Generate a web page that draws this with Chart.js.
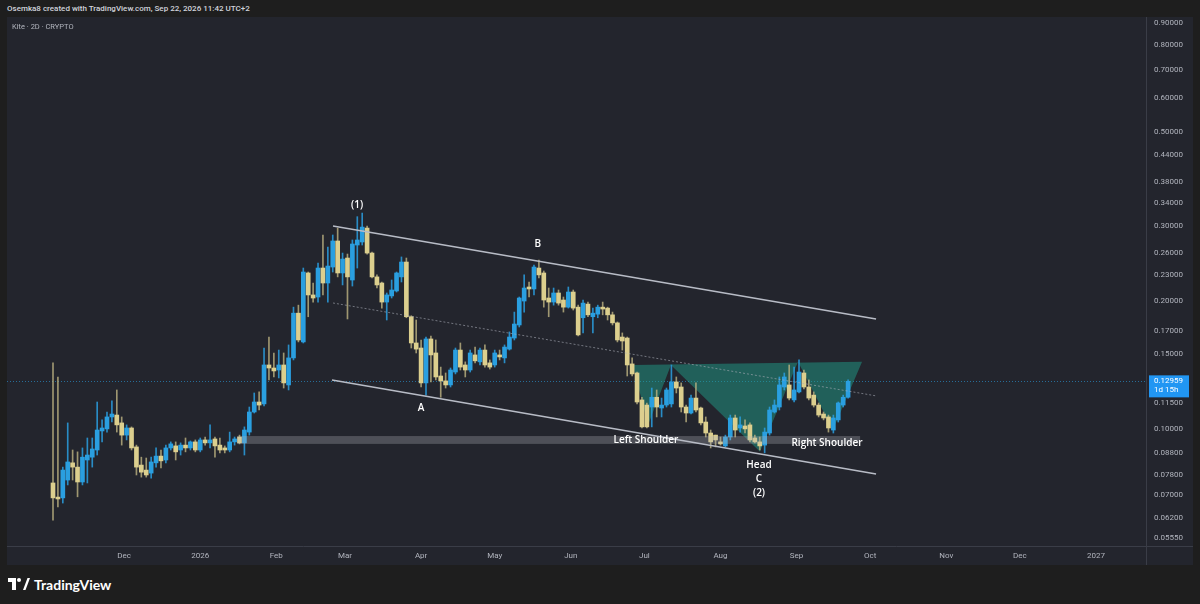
<!DOCTYPE html>
<html>
<head>
<meta charset="utf-8">
<script src="https://cdn.jsdelivr.net/npm/chart.js@4"></script>
<style>
  html, body { margin: 0; padding: 0; }
  body { width: 1200px; height: 604px; background: #1e1e1e; position: relative; overflow: hidden; font-family: Roboto, sans-serif; }
  #hdr { position: absolute; left: 7px; top: 4px; font-size: 8px; font-weight: 500; color: #d1d4dc; white-space: nowrap; }
  #frame { position: absolute; left: 7px; top: 17px; width: 1186px; height: 548px; background: #23252d; }
  #sym { position: absolute; left: 12px; top: 22px; font-size: 7.5px; color: #b2b5be; white-space: nowrap; }
  #logo { position: absolute; left: 8px; top: 575px; height: 18px; display: flex; align-items: center; color: #ffffff; font: 700 14px Lato, sans-serif; }
  #logo svg { margin-right: 4px; }
</style>
</head>
<body>
<div id="hdr">Osemka8 created with TradingView.com, Sep 22, 2026 11:42 UTC+2</div>
<div id="frame"><canvas id="c" width="1186" height="548"></canvas></div>
<div id="sym">Kite · 2D · CRYPTO</div>
<div id="logo"><svg width="22" height="12" viewBox="0 0 22 12"><path d="M0 0h8v12H4V4H0z" fill="#fff"/><circle cx="11" cy="2" r="2" fill="#fff"/><path d="M15 12l4.5-12H22l-4.5 12z" fill="#fff"/></svg>TradingView</div>
<script>
// 2D candles, first one opens 29 days before Dec 1 2025 (day 0 of the x axis)
const firstCandleDay = -29;
const candleStep = 2;

const candleOpen = [
  .0748,.0693,.0690,.0760,.0834,.0815,.0752,.0847,.0860,.0894,
  .0991,.1002,.1069,.1080,.1035,.0969,.1007,.0909,.0824,.0802,
  .0789,.0834,.0865,.0847,.0904,.0914,.0894,.0918,.0904,.0934,
  .0894,.0944,.0929,.0949,.0918,.0904,.0894,.0934,.0959,.0929,
  .0985,.1098,.1159,.1147,.1416,.1393,.1378,.1416,.1271,.1471,
  .1874,.1604,.2329,.2068,.2045,.2392,.2206,.2405,.2769,.2329,
  .2525,.2242,.2709,.2754,.2969,.2594,.2280,.2206,.1990,.2057,
  .2113,.2280,.2471,.1838,.1595,.1552,.1285,.1630,.1511,.1334,
  .1299,.1271,.1363,.1535,.1416,.1378,.1495,.1440,.1535,.1432,
  .1416,.1495,.1471,.1543,.1638,.1758,.2001,.2159,.2136,.2392,
  .2329,.2034,.1990,.2090,.2012,.1936,.2101,.1936,.1828,.1968,
  .1838,.1864,.1936,.1926,.1857,.1778,.1647,.1638,.1424,.1356,
  .1172,.1140,.1128,.1189,.1122,.1140,.1147,.1292,.1257,.1128,
  .1092,.1184,.1122,.1040,.0980,.0969,.0934,.0914,.0959,.1063,
  .1007,.1018,.1024,.0954,.0934,.0918,.0980,.1098,.1128,.1257,
  .1271,.1172,.1224,.1356,.1257,.1203,.1140,.1086,.1069,.0996,
  .1052,.1140,.1189
];
const candleHigh = [
  .1432,.1327,.0815,.1035,.0894,.0885,.0904,.0954,.0954,.1159,
  .1052,.1098,.1166,.1237,.1069,.1024,.1013,.0918,.0860,.0856,
  .0860,.0904,.0894,.0918,.0934,.0934,.0929,.0954,.0939,.0944,
  .0954,.0959,.1024,.0959,.0954,.0914,.0985,.0959,.0969,.1013,
  .1128,.1217,.1224,.1552,.1647,.1511,.1535,.1511,.1578,.1936,
  .1957,.2392,.2341,.2206,.2457,.2860,.2680,.2860,.2969,.2594,
  .2580,.2784,.3158,.3220,.3002,.2609,.2305,.2218,.2090,.2242,
  .2341,.2540,.2525,.1848,.1806,.1621,.1647,.1656,.1621,.1400,
  .1356,.1393,.1552,.1595,.1440,.1535,.1560,.1552,.1578,.1455,
  .1535,.1535,.1578,.1693,.1885,.2045,.2305,.2218,.2431,.2498,
  .2354,.2147,.2147,.2124,.2045,.2159,.2124,.1957,.2012,.1990,
  .1926,.1957,.1990,.1936,.1885,.1787,.1684,.1647,.1471,.1363,
  .1189,.1153,.1250,.1237,.1184,.1250,.1416,.1327,.1285,.1140,
  .1203,.1285,.1128,.1069,.0996,.0969,.0959,.0969,.1080,.1080,
  .1069,.1052,.1035,.0969,.0959,.1007,.1128,.1172,.1327,.1356,
  .1416,.1400,.1455,.1378,.1306,.1224,.1153,.1098,.1080,.1080,
  .1159,.1203,.1306
];
const candleLow = [
  .0612,.0657,.0671,.0740,.0760,.0694,.0740,.0748,.0815,.0870,
  .0934,.0985,.1040,.0985,.0918,.0944,.0894,.0781,.0772,.0772,
  .0768,.0815,.0811,.0834,.0894,.0847,.0870,.0885,.0894,.0885,
  .0885,.0918,.0904,.0860,.0880,.0880,.0885,.0918,.0924,.0870,
  .0969,.1092,.1110,.1134,.1306,.1327,.1320,.1250,.1237,.1455,
  .1604,.1595,.1838,.1990,.1990,.2068,.1990,.2341,.2280,.2183,
  .1816,.2170,.2392,.2709,.2580,.2268,.2147,.1926,.1806,.2034,
  .2101,.2218,.1828,.1552,.1511,.1257,.1203,.1292,.1306,.1189,
  .1250,.1257,.1349,.1378,.1327,.1363,.1432,.1416,.1400,.1385,
  .1400,.1455,.1432,.1535,.1621,.1739,.1885,.2045,.2068,.2268,
  .1936,.1838,.1957,.1957,.1885,.1926,.1906,.1656,.1684,.1838,
  .1684,.1828,.1857,.1806,.1758,.1604,.1535,.1334,.1334,.1147,
  .1007,.1007,.1013,.1069,.1069,.1128,.1128,.1217,.1098,.1040,
  .1086,.1098,.1024,.0959,.0904,.0909,.0918,.0909,.0944,.0959,
  .0985,.0980,.0934,.0929,.0894,.0880,.0969,.1092,.1110,.1237,
  .1172,.1159,.1217,.1244,.1172,.1128,.1069,.1052,.0985,.0980,
  .1040,.1128,.1184
];
const candleClose = [
  .0690,.0686,.0802,.0838,.0815,.0752,.0860,.0870,.0899,.0996,
  .1007,.1069,.1086,.1024,.0969,.1007,.0904,.0815,.0793,.0781,
  .0838,.0865,.0843,.0904,.0924,.0885,.0918,.0904,.0934,.0894,
  .0944,.0929,.0944,.0914,.0894,.0894,.0934,.0949,.0929,.0996,
  .1098,.1159,.1140,.1416,.1393,.1371,.1416,.1285,.1471,.1874,
  .1621,.2341,.2068,.2034,.2392,.2206,.2418,.2769,.2329,.2511,
  .2280,.2724,.2784,.2985,.2594,.2280,.2183,.1990,.2068,.2124,
  .2329,.2471,.1838,.1595,.1543,.1285,.1630,.1495,.1327,.1299,
  .1271,.1378,.1535,.1400,.1378,.1511,.1448,.1535,.1416,.1400,
  .1511,.1479,.1560,.1647,.1767,.2034,.2147,.2136,.2405,.2305,
  .2012,.1990,.2090,.1979,.1936,.2101,.1926,.1666,.1979,.1857,
  .1874,.1936,.1916,.1857,.1778,.1621,.1612,.1416,.1349,.1159,
  .1013,.1013,.1189,.1128,.1140,.1237,.1292,.1250,.1128,.1092,
  .1184,.1110,.1035,.0980,.0934,.0944,.0924,.0959,.1063,.0996,
  .1024,.1002,.0944,.0934,.0914,.0985,.1110,.1140,.1271,.1327,
  .1184,.1237,.1363,.1257,.1184,.1140,.1080,.1063,.1007,.1063,
  .1153,.1189,.12959
];
const lastPrice = 0.12959;

// axis ticks
const priceTicks = [0.9, 0.8, 0.7, 0.6, 0.5, 0.44, 0.38, 0.34, 0.3, 0.26, 0.23, 0.2, 0.17, 0.15, 0.115, 0.1, 0.088, 0.078, 0.07, 0.062, 0.0555];
const monthTickDays = [0, 31, 62, 90, 121, 151, 182, 212, 243, 274, 304, 335, 365, 396];
const monthTickLabels = ['Dec', '2026', 'Feb', 'Mar', 'Apr', 'May', 'Jun', 'Jul', 'Aug', 'Sep', 'Oct', 'Nov', 'Dec', '2027'];

// drawings (day, price)
const channelUpper = [[85.1, 0.3002], [306.4, 0.1816]];
const channelLower = [[84.7, 0.1306], [306.4, 0.0785]];
const channelMid = [[85.1, 0.1980], [306.4, 0.1198]];
const bandDays = [46.0, 299.9];
const bandPrices = [0.0964, 0.0924];
const hsDays = [207.3, 213.5, 222.8, 259.1, 274.6, 288.8, 300.7];
const hsPrices = [0.1416, 0.1024, 0.1416, 0.0885, 0.1440, 0.0996, 0.1440];
const labelTexts = ['(1)', 'B', 'A', 'Left Shoulder', 'Head', 'C', '(2)', 'Right Shoulder'];
const labelDays = [94.9, 168.6, 121, 212.6, 258.7, 258.7, 258.7, 286.4];
const labelPrices = [0.3363, 0.2724, 0.1122, 0.0944, 0.0824, 0.0764, 0.0709, 0.0929];

const UP = '#2a9fe0';
const DOWN = '#dccf8e';

const candleDay = candleOpen.map((_, i) => firstCandleDay + candleStep * i);
const isUp = candleOpen.map((o, i) => candleClose[i] >= o);

const drawings = {
  id: 'drawings',
  beforeDatasetsDraw(chart) {
    const { ctx, chartArea: a, scales: { x, y } } = chart;
    ctx.save();
    ctx.beginPath();
    ctx.rect(a.left, a.top, a.right - a.left, a.bottom - a.top);
    ctx.clip();
    // last price dotted line
    const py = Math.round(y.getPixelForValue(lastPrice)) + 0.5;
    ctx.strokeStyle = 'rgba(42,159,224,0.6)';
    ctx.lineWidth = 1;
    ctx.setLineDash([1, 2]);
    ctx.beginPath();
    ctx.moveTo(a.left, py);
    ctx.lineTo(a.right, py);
    ctx.stroke();
    ctx.setLineDash([]);
    // head & shoulders
    ctx.fillStyle = 'rgba(32,160,140,0.48)';
    ctx.beginPath();
    hsDays.forEach((d, i) => {
      const px = x.getPixelForValue(d), pyy = y.getPixelForValue(hsPrices[i]);
      if (i === 0) ctx.moveTo(px, pyy); else ctx.lineTo(px, pyy);
    });
    ctx.closePath();
    ctx.fill();
    ctx.restore();
  },
  afterDatasetsDraw(chart) {
    const { ctx, chartArea: a, scales: { x, y } } = chart;
    ctx.save();
    ctx.beginPath();
    ctx.rect(a.left, a.top, a.right - a.left, a.bottom - a.top);
    ctx.clip();
    // support band
    const bx0 = x.getPixelForValue(bandDays[0]), bx1 = x.getPixelForValue(bandDays[1]);
    const by0 = y.getPixelForValue(bandPrices[0]), by1 = y.getPixelForValue(bandPrices[1]);
    ctx.fillStyle = 'rgba(178,181,190,0.3)';
    ctx.fillRect(bx0, by0, bx1 - bx0, by1 - by0);
    // channel
    const seg = (pts) => {
      ctx.beginPath();
      ctx.moveTo(x.getPixelForValue(pts[0][0]), y.getPixelForValue(pts[0][1]));
      ctx.lineTo(x.getPixelForValue(pts[1][0]), y.getPixelForValue(pts[1][1]));
      ctx.stroke();
    };
    ctx.strokeStyle = '#b8bcc6';
    ctx.lineWidth = 1.5;
    seg(channelUpper);
    seg(channelLower);
    ctx.strokeStyle = 'rgba(170,174,184,0.6)';
    ctx.lineWidth = 1;
    ctx.setLineDash([2, 2]);
    seg(channelMid);
    ctx.setLineDash([]);
    // labels
    ctx.fillStyle = '#ffffff';
    ctx.textAlign = 'center';
    ctx.textBaseline = 'middle';
    ctx.font = '600 10px "Open Sans"';
    labelTexts.forEach((t, i) => {
      ctx.fillText(t, x.getPixelForValue(labelDays[i]), y.getPixelForValue(labelPrices[i]));
    });
    ctx.restore();
  },
  afterDraw(chart) {
    const { ctx, chartArea: a, scales: { y } } = chart;
    ctx.save();
    ctx.strokeStyle = '#3a3d47';
    ctx.lineWidth = 1;
    ctx.beginPath();
    ctx.moveTo(a.right + 0.5, 0);
    ctx.lineTo(a.right + 0.5, chart.height);
    ctx.moveTo(0, a.bottom + 0.5);
    ctx.lineTo(chart.width, a.bottom + 0.5);
    ctx.stroke();
    // last price tag
    const py = y.getPixelForValue(lastPrice);
    ctx.fillStyle = '#2196f3';
    ctx.fillRect(a.right + 3, py - 6, 40, 22);
    ctx.fillStyle = '#ffffff';
    ctx.font = '8px Roboto';
    ctx.textAlign = 'left';
    ctx.textBaseline = 'middle';
    ctx.fillText(lastPrice.toFixed(5), a.right + 8, py);
    ctx.fillText('1d 15h', a.right + 8, py + 9);
    ctx.restore();
  }
};

new Chart(document.getElementById('c'), {
  type: 'bar',
  data: {
    datasets: [
      {
        label: 'wick',
        data: candleDay.map((d, i) => ({ x: d, y: [candleLow[i], candleHigh[i]] })),
        backgroundColor: isUp.map(u => u ? 'rgba(42,159,224,0.85)' : 'rgba(190,180,130,0.8)'),
        barThickness: 1,
        grouped: false,
        order: 2
      },
      {
        label: 'body',
        data: candleDay.map((d, i) => ({ x: d, y: [candleOpen[i], candleClose[i]] })),
        backgroundColor: isUp.map(u => u ? UP : DOWN),
        barThickness: 4,
        minBarLength: 1,
        grouped: false,
        order: 1
      }
    ]
  },
  options: {
    responsive: false,
    animation: false,
    layout: { padding: 0, autoPadding: false },
    plugins: { legend: { display: false }, tooltip: { enabled: false } },
    scales: {
      x: {
        type: 'linear',
        min: -47.745,
        max: 416.4,
        offset: false,
        grid: { display: false, drawTicks: false },
        border: { display: false },
        afterBuildTicks: s => { s.ticks = monthTickDays.map(v => ({ value: v })); },
        afterFit: s => { s.height = 19; },
        ticks: {
          autoSkip: false, maxRotation: 0, padding: 5,
          color: '#b2b5be', font: { size: 8, family: 'Roboto' },
          callback: (v, i) => monthTickLabels[i]
        }
      },
      y: {
        type: 'logarithmic',
        position: 'right',
        min: 0.05319,
        max: 0.9297,
        // transparent tick marks give the label offset without adding layout padding
        grid: { display: true, drawOnChartArea: false, drawTicks: true, tickLength: 8, color: 'rgba(0,0,0,0)' },
        border: { display: false },
        afterBuildTicks: s => { s.ticks = priceTicks.map(v => ({ value: v })); },
        afterFit: s => { s.width = 47; },
        ticks: {
          autoSkip: false, padding: 0,
          color: '#b2b5be', font: { size: 8, family: 'Roboto', lineHeight: 0.01 },
          callback: v => Number(v).toFixed(5)
        }
      }
    }
  },
  plugins: [drawings]
});
</script>
</body>
</html>
